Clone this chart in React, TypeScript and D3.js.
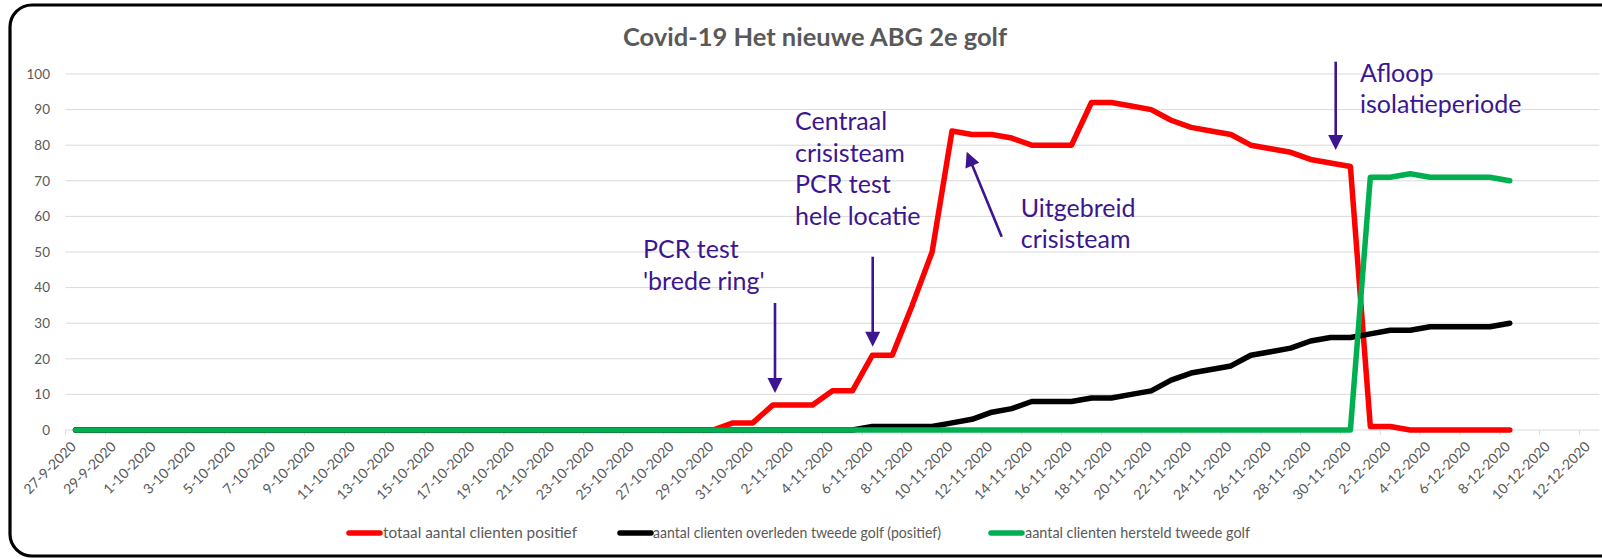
import React from "react";
import * as d3 from "d3";

const title = "Covid-19 Het nieuwe ABG 2e golf";

const categories = [
  "27-9-2020", "28-9-2020", "29-9-2020", "30-9-2020",
  "1-10-2020", "2-10-2020", "3-10-2020", "4-10-2020", "5-10-2020", "6-10-2020", "7-10-2020", "8-10-2020",
  "9-10-2020", "10-10-2020", "11-10-2020", "12-10-2020", "13-10-2020", "14-10-2020", "15-10-2020", "16-10-2020",
  "17-10-2020", "18-10-2020", "19-10-2020", "20-10-2020", "21-10-2020", "22-10-2020", "23-10-2020", "24-10-2020",
  "25-10-2020", "26-10-2020", "27-10-2020", "28-10-2020", "29-10-2020", "30-10-2020", "31-10-2020",
  "1-11-2020", "2-11-2020", "3-11-2020", "4-11-2020", "5-11-2020", "6-11-2020", "7-11-2020", "8-11-2020",
  "9-11-2020", "10-11-2020", "11-11-2020", "12-11-2020", "13-11-2020", "14-11-2020", "15-11-2020", "16-11-2020",
  "17-11-2020", "18-11-2020", "19-11-2020", "20-11-2020", "21-11-2020", "22-11-2020", "23-11-2020", "24-11-2020",
  "25-11-2020", "26-11-2020", "27-11-2020", "28-11-2020", "29-11-2020", "30-11-2020",
  "1-12-2020", "2-12-2020", "3-12-2020", "4-12-2020", "5-12-2020", "6-12-2020", "7-12-2020", "8-12-2020",
];

const tickLabels = [
  "27-9-2020", "29-9-2020", "1-10-2020", "3-10-2020", "5-10-2020", "7-10-2020", "9-10-2020", "11-10-2020",
  "13-10-2020", "15-10-2020", "17-10-2020", "19-10-2020", "21-10-2020", "23-10-2020", "25-10-2020", "27-10-2020",
  "29-10-2020", "31-10-2020", "2-11-2020", "4-11-2020", "6-11-2020", "8-11-2020", "10-11-2020", "12-11-2020",
  "14-11-2020", "16-11-2020", "18-11-2020", "20-11-2020", "22-11-2020", "24-11-2020", "26-11-2020", "28-11-2020",
  "30-11-2020", "2-12-2020", "4-12-2020", "6-12-2020", "8-12-2020", "10-12-2020", "12-12-2020",
];

const axisEnd = "13-12-2020";

const totaalPositief = [
  0, 0, 0, 0, 0, 0, 0, 0, 0, 0, 0, 0, 0, 0, 0, 0, 0, 0, 0, 0, 0, 0, 0, 0, 0, 0, 0, 0, 0, 0, 0, 0, 0,
  2, 2, 7, 7, 7, 11, 11, 21, 21, 35, 50, 84, 83, 83, 82, 80, 80, 80, 92, 92, 91, 90, 87, 85, 84, 83,
  80, 79, 78, 76, 75, 74, 1, 1, 0, 0, 0, 0, 0, 0,
];

const overleden = [
  0, 0, 0, 0, 0, 0, 0, 0, 0, 0, 0, 0, 0, 0, 0, 0, 0, 0, 0, 0, 0, 0, 0, 0, 0, 0, 0, 0, 0, 0, 0, 0, 0,
  0, 0, 0, 0, 0, 0, 0, 1, 1, 1, 1, 2, 3, 5, 6, 8, 8, 8, 9, 9, 10, 11, 14, 16, 17, 18,
  21, 22, 23, 25, 26, 26, 27, 28, 28, 29, 29, 29, 29, 30,
];

const hersteld = [
  0, 0, 0, 0, 0, 0, 0, 0, 0, 0, 0, 0, 0, 0, 0, 0, 0, 0, 0, 0, 0, 0, 0, 0, 0, 0, 0, 0, 0, 0, 0, 0, 0,
  0, 0, 0, 0, 0, 0, 0, 0, 0, 0, 0, 0, 0, 0, 0, 0, 0, 0, 0, 0, 0, 0, 0, 0, 0, 0,
  0, 0, 0, 0, 0, 0, 71, 71, 72, 71, 71, 71, 71, 70,
];

const seriesNames = [
  "totaal aantal clienten positief",
  "aantal clienten overleden tweede golf (positief)",
  "aantal clienten hersteld tweede golf",
];
const seriesColors = ["#FF0000", "#000000", "#00B050"];
const seriesValues = [totaalPositief, overleden, hersteld];

const yTicks = [0, 10, 20, 30, 40, 50, 60, 70, 80, 90, 100];

const annotationTexts = [
  ["PCR test", "'brede ring'"],
  ["Centraal", "crisisteam", "PCR test", "hele locatie"],
  ["Uitgebreid", "crisisteam"],
  ["Afloop", "isolatieperiode"],
];

const W = 1602;
const H = 559;
const FONT = "Lato, 'Open Sans', sans-serif";
const PURPLE = "#3C1690";
const GREY = "#595959";

function parseDate(s: string): number {
  const [d, m, y] = s.split("-").map(Number);
  return Date.UTC(y, m - 1, d);
}

const HALF_DAY = 12 * 3600 * 1000;

function Arrow({ x1, y1, x2, y2 }: { x1: number; y1: number; x2: number; y2: number }) {
  const dx = x2 - x1;
  const dy = y2 - y1;
  const len = Math.hypot(dx, dy);
  const ux = dx / len;
  const uy = dy / len;
  const hl = 15;
  const hw = 7.5;
  const bx = x2 - ux * hl;
  const by = y2 - uy * hl;
  const pts = [
    [x2, y2],
    [bx - uy * hw, by + ux * hw],
    [bx + uy * hw, by - ux * hw],
  ];
  return (
    <g>
      <line x1={x1} y1={y1} x2={bx + ux * 2} y2={by + uy * 2} stroke={PURPLE} strokeWidth={2.6} />
      <polygon points={pts.map((p) => p.join(",")).join(" ")} fill={PURPLE} />
    </g>
  );
}

export default function App() {
  const x = d3
    .scaleUtc()
    .domain([parseDate(tickLabels[0]), parseDate(axisEnd)])
    .range([65.6, 1599.4]);
  const y = d3.scaleLinear().domain([0, 100]).range([430, 74]);

  const line = d3
    .line<number>()
    .x((_, i) => x(parseDate(categories[i]) + HALF_DAY))
    .y((v) => y(v));

  const annPos = [
    { x: 643, y: 258, arrow: { x1: 775, y1: 303, x2: 775, y2: 393 } },
    { x: 795, y: 130, arrow: { x1: 872.7, y1: 256.7, x2: 872.7, y2: 346.7 } },
    { x: 1020.7, y: 216.7, arrow: { x1: 1001.7, y1: 236.7, x2: 966.7, y2: 151.7 } },
    { x: 1360, y: 81.7, arrow: { x1: 1335.7, y1: 61.7, x2: 1335.7, y2: 150 } },
  ];

  const legendSwatch = [347, 618, 989];
  const legendTextX = [383, 653, 1025];
  const legendTextLen = [194, 288, 225];

  return (
    <svg
      width={W}
      height={H}
      viewBox={`0 0 ${W} ${H}`}
      style={{ position: "fixed", left: 0, top: 0, background: "#fff" }}
      fontFamily={FONT}
    >
      <rect x={0} y={0} width={W} height={H} fill="#fff" />
      <rect x={10} y={5} width={1640} height={551} rx={22} ry={22} fill="#fff" stroke="#000" strokeWidth={3.2} />

      <text x={815} y={46} textAnchor="middle" fontSize={25.5} fontWeight={700} fill={GREY}>
        {title}
      </text>

      {/* gridlines */}
      {yTicks.slice(1).map((t) => (
        <line key={t} x1={x.range()[0]} x2={x.range()[1]} y1={y(t)} y2={y(t)} stroke="#D9D9D9" strokeWidth={1} />
      ))}
      <line x1={x.range()[0]} x2={x.range()[1]} y1={y(0)} y2={y(0)} stroke="#D9D9D9" strokeWidth={1} />

      {/* y labels */}
      {yTicks.map((t) => (
        <text key={t} x={50} y={y(t)} dy="0.35em" textAnchor="end" fontSize={13.5} fill={GREY}>
          {t}
        </text>
      ))}

      {/* x ticks and labels */}
      {tickLabels.map((lab) => {
        const tx = x(parseDate(lab));
        return (
          <g key={lab}>
            <line x1={tx} x2={tx} y1={y(0)} y2={y(0) + 5} stroke="#D9D9D9" strokeWidth={1} />
            <text
              transform={`translate(${tx + 8},${y(0) + 14}) rotate(-45)`}
              textAnchor="end"
              dy="0.35em"
              fontSize={14}
              fill={GREY}
            >
              {lab}
            </text>
          </g>
        );
      })}

      {/* series */}
      {seriesValues.map((vals, i) => (
        <path
          key={seriesNames[i]}
          d={line(vals) || ""}
          fill="none"
          stroke={seriesColors[i]}
          strokeWidth={5.5}
          strokeLinejoin="round"
          strokeLinecap="round"
        />
      ))}

      {/* legend */}
      {seriesNames.map((name, i) => (
        <g key={name}>
          <line
            x1={legendSwatch[i] + 2}
            x2={legendSwatch[i] + 33}
            y1={533}
            y2={533}
            stroke={seriesColors[i]}
            strokeWidth={5.5}
            strokeLinecap="round"
          />
          <text
            x={legendTextX[i]}
            y={533}
            dy="0.35em"
            fontSize={15}
            fill={GREY}
            textLength={legendTextLen[i]}
            lengthAdjust="spacingAndGlyphs"
          >
            {name}
          </text>
        </g>
      ))}

      {/* annotations */}
      {annotationTexts.map((lines, i) => (
        <g key={i}>
          <text x={annPos[i].x} y={annPos[i].y} fontSize={25} fill={PURPLE}>
            {lines.map((l, j) => (
              <tspan key={j} x={annPos[i].x} y={annPos[i].y + j * 31.7}>
                {l}
              </tspan>
            ))}
          </text>
          <Arrow {...annPos[i].arrow} />
        </g>
      ))}
    </svg>
  );
}
